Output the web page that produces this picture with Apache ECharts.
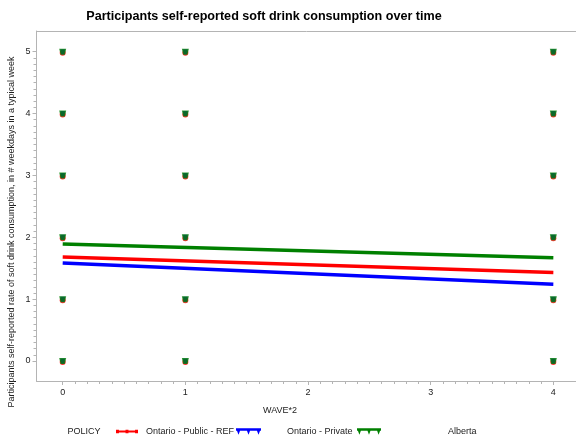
<!DOCTYPE html>
<html><head><meta charset="utf-8">
<script src="https://cdn.jsdelivr.net/npm/echarts@6/dist/echarts.min.js"></script>
<style>html,body{margin:0;padding:0;background:#fff;overflow:hidden}#c{width:576px;height:439px}</style>
</head><body><div id="c"></div>
<script>
// ---- data ----
const policies = ['Ontario - Public - REF', 'Ontario - Private', 'Alberta'];
const colors = ['#ff0000', '#0000ff', '#008000'];
const fitWaves = [0, 4];
const fitRed = [1.68, 1.43];
const fitBlue = [1.585, 1.24];
const fitGreen = [1.89, 1.67];
const observedWaves = [0, 1, 4];
const observedRates = [0, 1, 2, 3, 4, 5];
const xTickLabels = [0, 1, 2, 3, 4];
const yTickLabels = [0, 1, 2, 3, 4, 5];

const fits = [fitRed, fitBlue, fitGreen];
const obsPoints = [];
observedWaves.forEach(w => observedRates.forEach(r => obsPoints.push([w, r])));

function minorVals(maxV){ const a=[]; for(let i=0;i<=maxV*10;i++){ if(i%10!==0) a.push(i/10);} return a; }

const font = 'Liberation Sans, Arial, sans-serif';
const axisGray = '#b4b4b4';
const xMin = -0.2136, xMax = 4.678, yMin = -0.3233, yMax = 5.334;
const gridBox = { left: 36.5, width: 600, top: 31, height: 350, outerBoundsMode: 'none', containLabel: false };

const chart = echarts.init(document.getElementById('c'));
const series = [];
// observed points
const symbolPaths = [
  'circle',
  'path://M0,0 L10,0 L8,8 L2,8 Z',
  'path://M0,0 L10,0 L8,8 L2,8 Z'
];
const sizes = [6, [5, 5], [7, 6]];
policies.forEach((p, i) => {
  series.push({
    name: p + ' obs', type: 'scatter', xAxisIndex: 0, yAxisIndex: 0,
    data: obsPoints, symbol: symbolPaths[i], symbolSize: sizes[i],
    symbolOffset: i === 0 ? [0, 1] : [0, 0],
    itemStyle: { color: colors[i] }, z: 2 + i, silent: true
  });
});
policies.forEach((p, i) => {
  series.push({
    name: p, type: 'line', xAxisIndex: 0, yAxisIndex: 0,
    data: fitWaves.map((w, k) => [w, fits[i][k]]),
    showSymbol: false, lineStyle: { color: colors[i], width: 3.5 }, itemStyle: { color: colors[i] }, z: 10
  });
});

const iconRed = 'path://M0,4 L30,4 L30,7 L0,7 Z M0,3 L4,3 L4,8 L0,8 Z M13,3 L17,3 L17,8 L13,8 Z M26,3 L30,3 L30,8 L26,8 Z';
const iconTri = 'path://M0,0 L30,0 L30,3 L0,3 Z M0,0 L6,0 L3,8 Z M12,0 L18,0 L15,8 Z M24,0 L30,0 L27,8 Z';

function leg(name, left, width, gap, icon){
  return { data: [{ name: name, icon: icon }], left: left, top: 427, itemWidth: width, itemHeight: 7,
    padding: 0, selectedMode: false,
    textStyle: { fontFamily: font, fontSize: 9, color: '#222', padding: [0, 0, 0, gap] } };
}
const hidden = { axisLine: { show: false, onZero: false }, axisTick: { show: false }, axisLabel: { show: false }, splitLine: { show: false } };

chart.setOption({
  animation: false,
  title: [
    { text: 'Participants self-reported soft drink consumption over time', left: 264, top: 10, padding: 0, textAlign: 'center',
      textStyle: { fontFamily: font, fontSize: 12.6, fontWeight: 'bold', color: '#000' } },
    { text: 'WAVE*2', left: 280, top: 406, padding: 0, textAlign: 'center', textStyle: { fontFamily: font, fontSize: 9, fontWeight: 'normal', color: '#222' } },
    { text: 'POLICY', left: 84, top: 427, padding: 0, textAlign: 'center', textStyle: { fontFamily: font, fontSize: 9, fontWeight: 'normal', color: '#222' } }
  ],
  graphic: [{
    type: 'text', x: 12, y: 232, rotation: Math.PI / 2,
    style: { text: 'Participants self-reported rate of soft drink consumption, in # weekdays in a typical week',
      fontFamily: font, fontSize: 9, fill: '#222', align: 'center', verticalAlign: 'middle' }
  }],
  legend: [
    leg(policies[0], 116, 22, 3, iconRed),
    leg(policies[1], 236, 25, 21, iconTri),
    leg(policies[2], 357, 24, 62, iconTri)
  ],
  grid: [Object.assign({}, gridBox), Object.assign({}, gridBox), Object.assign({}, gridBox)],
  xAxis: [
    { gridIndex: 0, type: 'value', min: xMin, max: xMax, position: 'bottom',
      axisLine: { show: true, onZero: false, lineStyle: { color: axisGray } },
      axisTick: { show: true, length: 4, customValues: xTickLabels, lineStyle: { color: axisGray } },
      axisLabel: { customValues: xTickLabels, margin: 7, fontFamily: font, fontSize: 9, color: '#222' },
      splitLine: { show: false } },
    { gridIndex: 1, type: 'value', min: xMin, max: xMax, position: 'bottom',
      axisLine: { show: false, onZero: false },
      axisTick: { show: true, length: 3, customValues: minorVals(4), lineStyle: { color: axisGray } },
      axisLabel: { show: false }, splitLine: { show: false } },
    { gridIndex: 2, type: 'value', min: xMin, max: xMax, position: 'top',
      axisLine: { show: true, onZero: false, lineStyle: { color: axisGray } },
      axisTick: { show: false }, axisLabel: { show: false }, splitLine: { show: false } }
  ],
  yAxis: [
    { gridIndex: 0, type: 'value', min: yMin, max: yMax, position: 'left',
      axisLine: { show: true, onZero: false, lineStyle: { color: axisGray } },
      axisTick: { show: true, length: 4, customValues: yTickLabels, lineStyle: { color: axisGray } },
      axisLabel: { customValues: yTickLabels, margin: 6, fontFamily: font, fontSize: 9, color: '#222' },
      splitLine: { show: false } },
    { gridIndex: 1, type: 'value', min: yMin, max: yMax, position: 'left',
      axisLine: { show: false, onZero: false },
      axisTick: { show: true, length: 3, customValues: minorVals(5), lineStyle: { color: axisGray } },
      axisLabel: { show: false }, splitLine: { show: false } },
    Object.assign({ gridIndex: 2, type: 'value', min: yMin, max: yMax, position: 'left' }, hidden)
  ],
  series: series
});
</script></body></html>
